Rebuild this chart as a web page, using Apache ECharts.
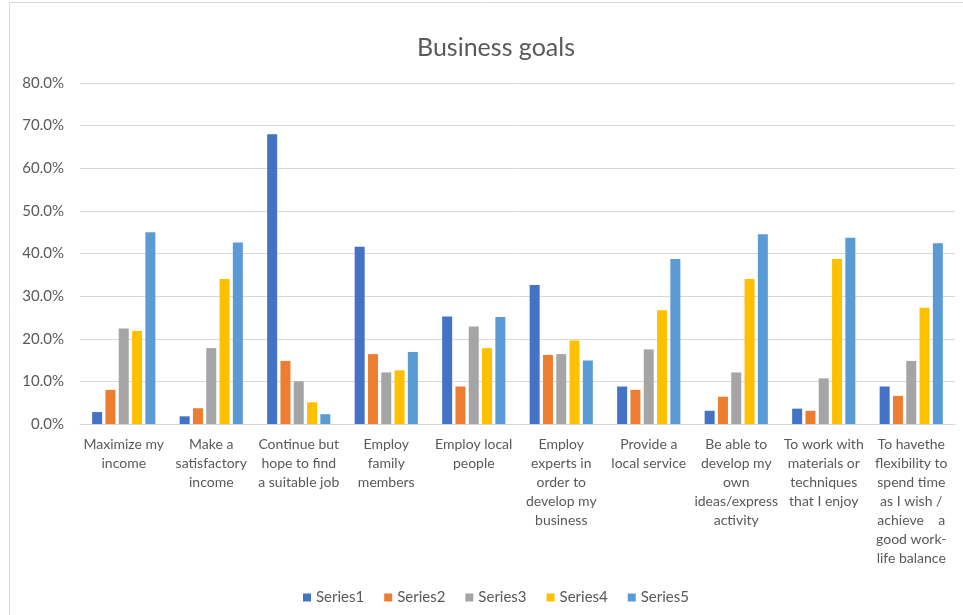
<!DOCTYPE html>
<html>
<head>
<meta charset="utf-8">
<script src="https://cdn.jsdelivr.net/npm/echarts@6/dist/echarts.min.js"></script>
<style>html,body{margin:0;padding:0;background:#fff;}#c{width:963px;height:615px;}</style>
</head>
<body>
<div id="c"></div>
<script>
const categories = [
  "Maximize my\nincome",
  "Make a\nsatisfactory\nincome",
  "Continue but\nhope to find\na suitable job",
  "Employ\nfamily\nmembers",
  "Employ local\npeople",
  "Employ\nexperts in\norder to\ndevelop my\nbusiness",
  "Provide a\nlocal service",
  "Be able to\ndevelop my\nown\nideas/express\nactivity",
  "To work with\nmaterials or\ntechniques\nthat I enjoy",
  "To havethe\nflexibility to\nspend time\nas I wish /\nachieve    a\ngood work-\nlife balance"
];
const seriesNames = ["Series1", "Series2", "Series3", "Series4", "Series5"];
const series1 = [2.8, 1.8, 68.0, 41.6, 25.2, 32.6, 8.8, 3.1, 3.6, 8.8];
const series2 = [8.0, 3.7, 14.8, 16.4, 8.8, 16.2, 8.0, 6.4, 3.1, 6.6];
const series3 = [22.4, 17.8, 10.0, 12.1, 22.9, 16.4, 17.5, 12.1, 10.7, 14.8];
const series4 = [21.8, 34.0, 5.1, 12.6, 17.8, 19.6, 26.7, 34.0, 38.7, 27.3];
const series5 = [45.0, 42.6, 2.3, 16.9, 25.1, 14.9, 38.7, 44.5, 43.7, 42.4];
const colors = ["#4472C4", "#ED7D31", "#A5A5A5", "#FFC000", "#5B9BD5"];
const allData = [series1, series2, series3, series4, series5];

const chart = echarts.init(document.getElementById('c'), null, {renderer: 'canvas'});
chart.setOption({
  animation: false,
  backgroundColor: '#ffffff',
  color: colors,
  graphic: [{
    type: 'rect', left: 7, top: 0, shape: {width: 970, height: 630},
    style: {fill: 'none', stroke: '#d9d9d9', lineWidth: 1}, silent: true
  }],
  title: {
    text: 'Business goals', left: 412, top: 30,
    textStyle: {fontFamily: 'Lato', fontSize: 25, fontWeight: 'normal', color: '#595959'}
  },
  legend: {
    top: 585, left: 298, itemWidth: 8, itemHeight: 8, itemGap: 20,
    icon: 'rect',
    textStyle: {fontFamily: 'Lato', fontSize: 15, color: '#595959'},
    data: seriesNames
  },
  grid: {left: 80, right: 8, top: 83, bottom: 191, containLabel: false},
  xAxis: {
    type: 'category', data: categories,
    axisLine: {lineStyle: {color: '#d9d9d9'}},
    axisTick: {show: false},
    axisLabel: {interval: 0, fontFamily: 'Lato', fontSize: 14, color: '#595959', lineHeight: 19, margin: 11, align: 'center'}
  },
  yAxis: {
    type: 'value', min: 0, max: 80, interval: 10,
    axisLine: {show: false}, axisTick: {show: false},
    splitLine: {lineStyle: {color: '#d9d9d9'}},
    axisLabel: {fontFamily: 'Lato', fontSize: 15, color: '#595959', margin: 16,
      formatter: v => v.toFixed(1) + '%'}
  },
  series: seriesNames.map((n, i) => ({
    name: n, type: 'bar', data: allData[i], barWidth: 10, barGap: '33%',
    itemStyle: {color: colors[i]}
  }))
});
</script>
</body>
</html>
